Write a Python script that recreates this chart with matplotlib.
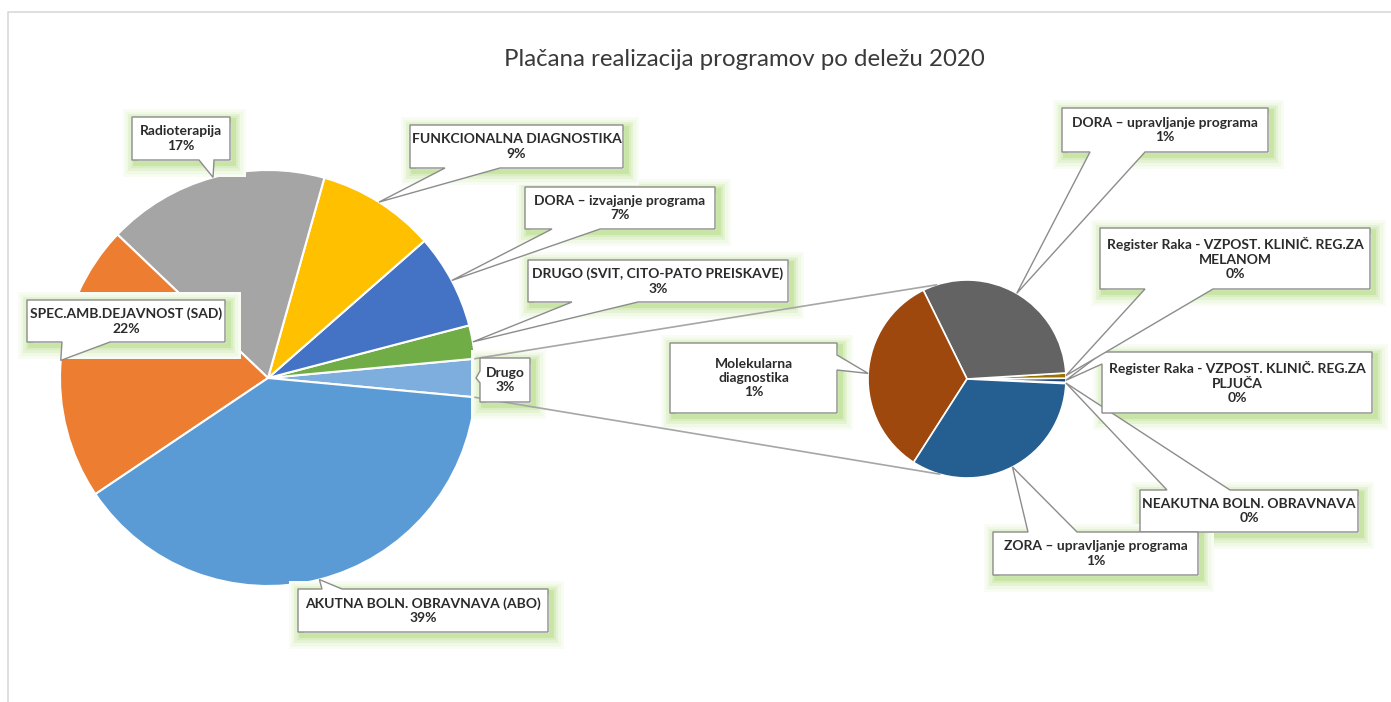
import numpy as np
import matplotlib
matplotlib.use("Agg")
import matplotlib.pyplot as plt
import matplotlib.patheffects as pe
from matplotlib.patches import Polygon, Rectangle

plt.rcParams['font.family'] = ['Lato', 'DejaVu Sans']

W, H = 1391, 702

TITLE = "Plačana realizacija programov po deležu 2020"

# secondary pie ("Drugo" split), counterclockwise from the right
sec_labels = [
    "NEAKUTNA BOLN. OBRAVNAVA",
    "Register Raka - VZPOST. KLINIČ. REG.ZA\nPLJUČA",
    "Register Raka - VZPOST. KLINIČ. REG.ZA\nMELANOM",
    "DORA – upravljanje programa",
    "Molekularna\ndiagnostika",
    "ZORA – upravljanje programa",
]
sec_values = [0.006, 0.02, 0.025, 0.93, 1.0, 0.99]
sec_colors = ["#43682B", "#264478", "#997300", "#636363", "#9E480E", "#255E91"]

# main pie, counterclockwise from the right
main_labels = [
    "Drugo",
    "DRUGO (SVIT, CITO-PATO PREISKAVE)",
    "DORA – izvajanje programa",
    "FUNKCIONALNA DIAGNOSTIKA",
    "Radioterapija",
    "SPEC.AMB.DEJAVNOST (SAD)",
    "AKUTNA BOLN. OBRAVNAVA (ABO)",
]
main_values = [sum(sec_values), 2.6, 7.4, 9.2, 17.3, 21.6, 39.2]
main_colors = ["#7EAEDD", "#70AD47", "#4472C4", "#FFC000", "#A5A5A5", "#ED7D31", "#5B9BD5"]

total = sum(main_values)

# callout boxes (pixel layout: x0, y0, x1, y1, side of pointer, pointer base)
main_boxes = [
    ((480, 358, 530, 402), "left", (371, 383)),
    ((528, 260, 788, 302), "bottom", (572, 638)),
    ((525, 187, 715, 229), "bottom", (552, 600)),
    ((410, 125, 623, 168), "bottom", (445, 500)),
    ((132, 117, 230, 160), "bottom", (199, 214)),
    ((27, 300, 225, 342), "bottom", (62, 110)),
    ((298, 589, 548, 632), "top", (322, 342)),
]
sec_boxes = [
    ((1140, 490, 1358, 532), "top", (1167, 1230)),
    ((1102, 352, 1372, 413), "left", (353, 364)),
    ((1100, 228, 1370, 289), "bottom", (1145, 1213)),
    ((1062, 108, 1268, 152), "bottom", (1090, 1145)),
    ((670, 343, 837, 413), "right", (355, 370)),
    ((993, 532, 1198, 575), "top", (1028, 1077)),
]

MAIN_C, MAIN_R = (268, H - 378), 208
SEC_C, SEC_R = (967, H - 379), 99

fig = plt.figure(figsize=(W / 100, H / 100), dpi=100)
ax = fig.add_axes([0, 0, 1, 1])

main_deg = main_values[0] / total * 360
wm, _ = ax.pie(main_values, colors=main_colors, startangle=-main_deg / 2,
               center=MAIN_C, radius=MAIN_R, counterclock=True,
               wedgeprops=dict(edgecolor="white", linewidth=1.5))

sec_total = sum(sec_values)
sec_start = 3.5 - 360 * sum(sec_values[:3]) / sec_total
ws, _ = ax.pie(sec_values, colors=sec_colors, startangle=sec_start,
               center=SEC_C, radius=SEC_R, counterclock=True,
               wedgeprops=dict(edgecolor="white", linewidth=1.2))

ax.set_xlim(0, W)
ax.set_ylim(0, H)
ax.set_aspect("auto")
ax.axis("off")

# chart area border
ax.plot([8, 8, W], [0, H - 12, H - 12], color="#d9d9d9", lw=1.2, clip_on=False)

# connector lines between the "Drugo" slice and the secondary pie
d = wm[0]
for ang_main, ang_sec in [(d.theta2, 108), (d.theta1, -106)]:
    p1 = (MAIN_C[0] + MAIN_R * np.cos(np.radians(ang_main)),
          MAIN_C[1] + MAIN_R * np.sin(np.radians(ang_main)))
    p2 = (SEC_C[0] + SEC_R * np.cos(np.radians(ang_sec)),
          SEC_C[1] + SEC_R * np.sin(np.radians(ang_sec)))
    ax.plot([p1[0], p2[0]], [p1[1], p2[1]], color="#a6a6a6", lw=1.2, zorder=2.95)

# soft green glow around the label boxes
glow = [
    pe.Stroke(offset=(2.5, -3), linewidth=18, foreground="#f8fcf4"),
    pe.Stroke(offset=(2.5, -3), linewidth=14, foreground="#f0f8e6"),
    pe.Stroke(offset=(2.5, -3), linewidth=10, foreground="#e5f3d4"),
    pe.Stroke(offset=(2, -2.5), linewidth=6.5, foreground="#d8edc0"),
    pe.Stroke(offset=(2, -2.5), linewidth=3.5, foreground="#c8e5a6"),
    pe.Normal(),
]


def callout(box, side, base, tip, text):
    x0, y0, x1, y1 = box
    a, b = base
    tx, ty = tip
    if side == "top":
        pts = [(x0, y0), (a, y0), (tx, ty), (b, y0), (x1, y0), (x1, y1), (x0, y1)]
    elif side == "right":
        pts = [(x0, y0), (x1, y0), (x1, a), (tx, ty), (x1, b), (x1, y1), (x0, y1)]
    elif side == "bottom":
        pts = [(x0, y0), (x1, y0), (x1, y1), (b, y1), (tx, ty), (a, y1), (x0, y1)]
    else:
        pts = [(x0, y0), (x1, y0), (x1, y1), (x0, y1), (x0, b), (tx, ty), (x0, a)]
    shade = Rectangle((x0, H - y1), x1 - x0, y1 - y0, fc="white", ec="none",
                      zorder=2.9)
    shade.set_path_effects(glow)
    ax.add_patch(shade)
    poly = Polygon([(x, H - y) for x, y in pts], closed=True, fc="white",
                   ec="#8c8c8c", lw=1.0, zorder=3, joinstyle="miter")
    ax.add_patch(poly)
    ax.text((x0 + x1) / 2, H - (y0 + y1) / 2, text, ha="center", va="center",
            multialignment="center", fontsize=10, fontweight="bold",
            color="#2b2b2b", linespacing=1.25, zorder=4)


def mid_point(w, center, r):
    # slice middle on the rim, returned in pixel layout (y down)
    ang = np.radians((w.theta1 + w.theta2) / 2)
    return (center[0] + r * np.cos(ang), H - (center[1] + r * np.sin(ang)))


for w, lab, val, (box, side, base) in zip(wm, main_labels, main_values, main_boxes):
    tip = mid_point(w, MAIN_C, MAIN_R)
    callout(box, side, base, tip, f"{lab}\n{val / total * 100:.0f}%")

for w, lab, val, (box, side, base) in zip(ws, sec_labels, sec_values, sec_boxes):
    tip = mid_point(w, SEC_C, SEC_R)
    callout(box, side, base, tip, f"{lab}\n{val / total * 100:.0f}%")

ax.text(744, H - 60, TITLE, ha="center", va="center", fontsize=17.3,
        color="#3a3a3a")

fig.savefig("out.png", dpi=100)
